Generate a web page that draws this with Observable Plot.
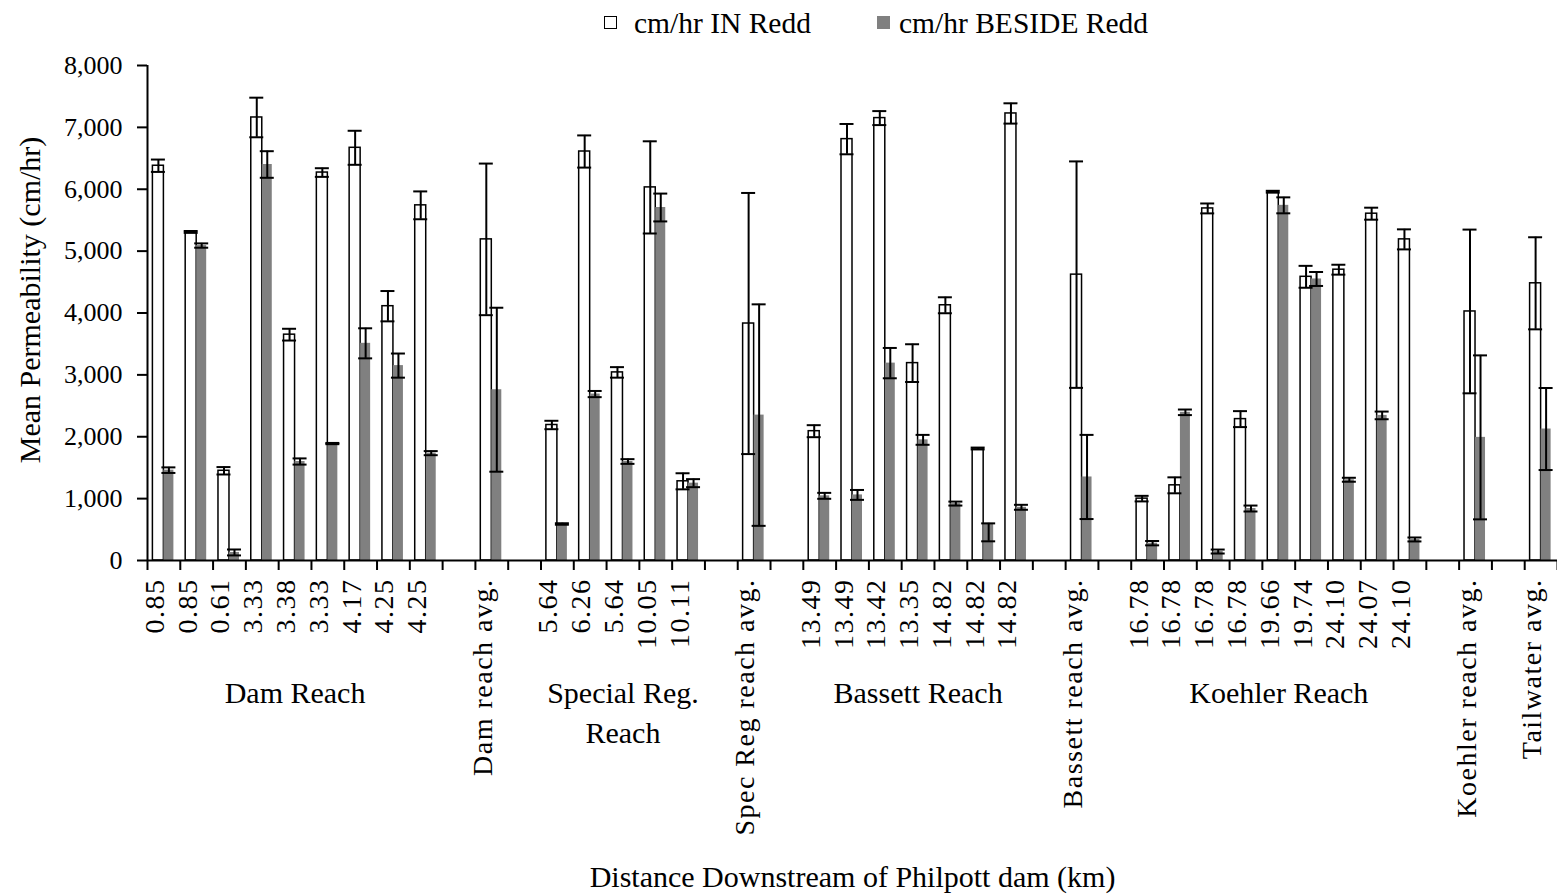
<!DOCTYPE html>
<html>
<head>
<meta charset="utf-8">
<script src="https://cdn.jsdelivr.net/npm/d3@7"></script>
<script src="https://cdn.jsdelivr.net/npm/@observablehq/plot@0.6"></script>
<style>
  body { margin: 0; background: #fff; }
  #wrap { position: relative; width: 1557px; height: 896px; overflow: hidden; font-family: "Liberation Serif", "Times New Roman", serif; color: #000; background: #fff; }
  #legend { position: absolute; left: 0; top: 0; width: 1557px; height: 46px; font-size: 29.5px; }
  #legend .sw { position: absolute; top: 16px; width: 13px; height: 13px; box-sizing: border-box; }
  #legend .lt { position: absolute; top: 0; line-height: 46px; white-space: nowrap; }
  #ytitle { position: absolute; left: 30px; top: 300px; transform: translate(-50%, -50%) rotate(-90deg); font-size: 30px; white-space: nowrap; }
  #chart { position: absolute; left: 0; top: 46px; }
  /* rotated site labels are set with slightly open spacing */
  #chart text[transform*="rotate(-90)"] { letter-spacing: 1.5px; }
</style>
</head>
<body>
<div id="wrap">
  <div id="legend"></div>
  <div id="chart"></div>
  <div id="ytitle">Mean Permeability (cm/hr)</div>
</div>
<script>
// Sampling sites along the river (km downstream of the dam); "" marks a spacer slot
const siteLabels = [
  "0.85", "0.85", "0.61", "3.33", "3.38", "3.33", "4.17", "4.25", "4.25",
  "", "Dam reach avg.", "",
  "5.64", "6.26", "5.64", "10.05", "10.11",
  "", "Spec Reg reach avg.", "",
  "13.49", "13.49", "13.42", "13.35", "14.82", "14.82", "14.82",
  "", "Bassett reach avg.", "",
  "16.78", "16.78", "16.78", "16.78", "19.66", "19.74", "24.10", "24.07", "24.10",
  "", "Koehler reach avg.", "",
  "Tailwater avg."
];

// Mean permeability IN the redd (cm/hr) and its error bar half-width
const inRedd = [
  6380, 5310, 1450, 7160, 3650, 6270, 6670, 4110, 5740,
  null, 5190, null,
  2190, 6610, 3040, 6030, 1280,
  null, 3830, null,
  2090, 6810, 7150, 3190, 4125, 1810, 7225,
  null, 4620, null,
  1000, 1215, 5690, 2285, 5960, 4585, 4700, 5605, 5190,
  null, 4025, null,
  4480
];
const inErr = [
  100, 15, 60, 320, 95, 70, 275, 245, 225,
  null, 1225, null,
  68, 260, 85, 745, 130,
  null, 2110, null,
  97, 245, 113, 305, 129, 15, 164,
  null, 1830, null,
  45, 129, 80, 129, 15, 177, 80, 97, 162,
  null, 1323, null,
  744
];

// Mean permeability BESIDE the redd (cm/hr); an error entry may be [minus, plus]
const besideRedd = [
  1460, 5090, 130, 6400, 1600, 1890, 3510, 3150, 1735,
  null, 2760, null,
  590, 2690, 1600, 5705, 1250,
  null, 2350, null,
  1045, 1060, 3190, 1950, 920, 600, 860,
  null, 1350, null,
  280, 2395, 145, 840, 5740, 4550, 1305, 2345, 340,
  null, 1990, null,
  2125
];
const besideErr = [
  45, 35, 48, 215, 50, 10, 243, 195, 33,
  null, 1325, null,
  12, 50, 38, 225, 65,
  null, 1790, null,
  48, 80, 245, 80, 32, [290, 0], 40,
  null, 680, null,
  35, 45, 32, 48, 129, 113, 32, 62, 32,
  null, 1325, null,
  663
];

// Reach groupings: first and last slot index (inclusive) of each reach
const reachNames = ["Dam Reach", "Special Reg.\nReach", "Bassett Reach", "Koehler Reach"];
const reachFirst = [0, 12, 20, 30];
const reachLast = [8, 16, 26, 38];

const yTicks = [0, 1000, 2000, 3000, 4000, 5000, 6000, 7000, 8000];

const seriesNames = ["cm/hr IN Redd", "cm/hr BESIDE Redd"];
const seriesFill = ["white", "#808080"];

// ---- derived tables ----
const nSlots = siteLabels.length;
const lowOf = (v, e) => v - (Array.isArray(e) ? e[0] : e);
const highOf = (v, e) => v + (Array.isArray(e) ? e[1] : e);
const rows = siteLabels.map((label, i) => ({
  i, label,
  inV: inRedd[i], inLo: inRedd[i] == null ? null : lowOf(inRedd[i], inErr[i]), inHi: inRedd[i] == null ? null : highOf(inRedd[i], inErr[i]),
  bV: besideRedd[i], bLo: besideRedd[i] == null ? null : lowOf(besideRedd[i], besideErr[i]), bHi: besideRedd[i] == null ? null : highOf(besideRedd[i], besideErr[i])
})).filter(d => d.inV != null);
const reaches = reachNames.map((name, k) => ({name, mid: (reachFirst[k] + reachLast[k] + 1) / 2}));

// ---- layout ----
const W = 1557, H = 850;
const mL = 147, mR = 0, mT = 19, mB = 336;
const bw = (W - mL - mR) / nSlots;   // one slot per site
const half = bw / 2;
const wIn = 11, wBeside = 10, capW = 14;
const cIn = -wIn / 2, cBeside = wBeside / 2;  // bar centres relative to slot centre
const font = "'Liberation Serif', 'Times New Roman', serif";

// legend
const legend = document.getElementById("legend");
const legendPos = [{sw: 604, tx: 634}, {sw: 877, tx: 899}];
seriesNames.forEach((name, k) => {
  const sw = document.createElement("div");
  sw.className = "sw";
  sw.style.left = legendPos[k].sw + "px";
  sw.style.background = seriesFill[k];
  sw.style.border = k === 0 ? "1.5px solid #000" : "none";
  legend.appendChild(sw);
  const tx = document.createElement("div");
  tx.className = "lt";
  tx.style.left = legendPos[k].tx + "px";
  tx.textContent = name;
  legend.appendChild(tx);
});

const chart = Plot.plot({
  width: W, height: H,
  marginLeft: mL, marginRight: mR, marginTop: mT, marginBottom: mB,
  style: {fontFamily: font, background: "white", color: "black", overflow: "visible"},
  x: {domain: [0, nSlots], axis: null},
  y: {domain: [0, 8000], axis: null},
  marks: [
    // IN redd bars (outlined white)
    Plot.rect(rows, {x1: d => d.i, x2: d => d.i + 1, y1: 0, y2: "inV", fill: seriesFill[0], stroke: "black", strokeWidth: 1.5,
      insetLeft: half - wIn, insetRight: half}),
    // BESIDE redd bars (solid gray)
    Plot.rect(rows, {x1: d => d.i, x2: d => d.i + 1, y1: 0, y2: "bV", fill: seriesFill[1],
      insetLeft: half, insetRight: half - wBeside}),
    // error bars, IN
    Plot.ruleX(rows, {x: d => d.i + 0.5, y1: "inLo", y2: "inHi", dx: cIn, stroke: "black", strokeWidth: 2}),
    Plot.ruleY(rows, {y: "inLo", x1: d => d.i, x2: d => d.i + 1, insetLeft: half + cIn - capW / 2, insetRight: half - cIn - capW / 2, stroke: "black", strokeWidth: 2}),
    Plot.ruleY(rows, {y: "inHi", x1: d => d.i, x2: d => d.i + 1, insetLeft: half + cIn - capW / 2, insetRight: half - cIn - capW / 2, stroke: "black", strokeWidth: 2}),
    // error bars, BESIDE
    Plot.ruleX(rows, {x: d => d.i + 0.5, y1: "bLo", y2: "bHi", dx: cBeside, stroke: "black", strokeWidth: 2}),
    Plot.ruleY(rows, {y: "bLo", x1: d => d.i, x2: d => d.i + 1, insetLeft: half + cBeside - capW / 2, insetRight: half - cBeside - capW / 2, stroke: "black", strokeWidth: 2}),
    Plot.ruleY(rows, {y: "bHi", x1: d => d.i, x2: d => d.i + 1, insetLeft: half + cBeside - capW / 2, insetRight: half - cBeside - capW / 2, stroke: "black", strokeWidth: 2}),
    // axes
    Plot.ruleX([0], {stroke: "black", strokeWidth: 2}),
    Plot.ruleY([0], {stroke: "black", strokeWidth: 2}),
    Plot.axisY({ticks: yTicks, tickFormat: d3.format(","), tickSize: 10, tickPadding: 15, fontSize: 26, label: null, strokeWidth: 2}),
    Plot.axisX({ticks: d3.range(nSlots + 1), tickFormat: () => "", tickSize: 10, label: null, strokeWidth: 2}),
    // site labels
    Plot.text(rows, {x: d => d.i + 0.5, text: "label", frameAnchor: "bottom", rotate: -90, textAnchor: "end",
      dy: 18, fontSize: 28, fill: "black"}),
    // reach names
    Plot.text(reaches, {x: "mid", text: "name", frameAnchor: "bottom", lineAnchor: "top", lineHeight: 1.33,
      dy: 114, fontSize: 30, fill: "black"}),
    // x axis title
    Plot.text(["Distance Downstream of Philpott dam (km)"], {frameAnchor: "bottom", dy: 326, fontSize: 30, fill: "black"})
  ]
});
document.getElementById("chart").appendChild(chart);
</script>
</body>
</html>
